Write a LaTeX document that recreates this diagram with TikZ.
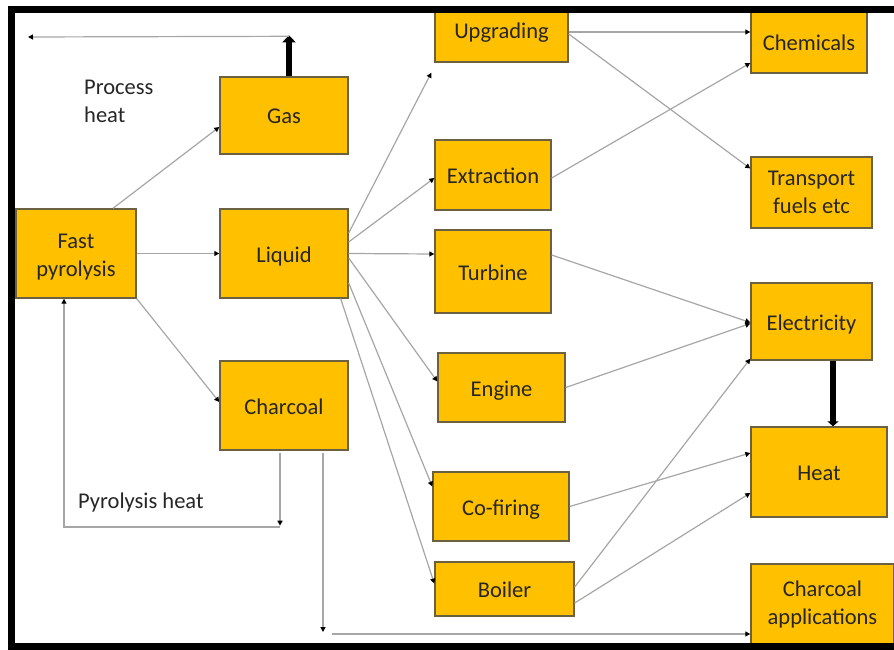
\documentclass[tikz,border=0pt]{standalone}
\usepackage{fontspec}
\setmainfont{Carlito}
\usetikzlibrary{arrows.meta,calc}
\definecolor{boxfill}{HTML}{FFC000}
\definecolor{boxline}{HTML}{6B6040}
\definecolor{flow}{HTML}{A6A6A6}
\definecolor{ink}{HTML}{262626}
\begin{document}
\begin{tikzpicture}[x=1pt,y=-1pt,
  stage/.style={draw=boxline, line width=1.4pt, fill=boxfill, text=ink,
    align=center, inner sep=0pt, font=\fontsize{22.5}{28}\selectfont},
  oneline/.style={stage, text height=19pt, text depth=2pt},
  flowto/.style={draw=flow, line width=1.2pt,
    -{Triangle[length=5pt,width=5pt,color=black]}},
  heavy/.style={draw=black, line width=6pt,
    -{Triangle[length=7pt,width=13pt]}},
  note/.style={text=ink, align=left, anchor=west, inner sep=0pt,
    font=\fontsize{22.5}{28}\selectfont}]
\useasboundingbox (0,0) rectangle (894,650);
\clip (0,0) rectangle (894,650);

% process stages
\node[stage, minimum width=120pt, minimum height=89pt] (fp) at (76,253.5) {\rule{0pt}{22pt}Fast\\pyrolysis};
\node[oneline, minimum width=128pt, minimum height=77pt] (gas) at (284,115.5) {Gas};
\node[oneline, minimum width=128pt, minimum height=89pt] (liquid) at (284,253.5) {Liquid};
\node[oneline, minimum width=128pt, minimum height=89pt] (charcoal) at (284,405.5) {Charcoal};

% conversion routes
\node[oneline, text height=17pt, text depth=4pt, minimum width=133pt, minimum height=60pt] (upg) at (501.5,32) {Upgrading};
\node[oneline, minimum width=116pt, minimum height=70pt] (extr) at (493,175) {Extraction};
\node[oneline, minimum width=116pt, minimum height=83pt] (turb) at (493,271.5) {Turbine};
\node[oneline, minimum width=127pt, minimum height=69pt] (eng) at (501.5,387.5) {Engine};
\node[oneline, minimum width=136pt, minimum height=69pt] (cofire) at (501,506.5) {Co-firing};
\node[oneline, minimum width=139pt, minimum height=54pt] (boil) at (504.5,589) {Boiler};

% products
\node[oneline, minimum width=116pt, minimum height=61pt] (chem) at (809,42.5) {Chemicals};
\node[stage, minimum width=121pt, minimum height=71pt] (fuel) at (811.5,192.5) {Transport\\fuels etc};
\node[oneline, minimum width=121pt, minimum height=77pt] (elec) at (811.5,321.5) {Electricity};
\node[oneline, minimum width=136pt, minimum height=90pt] (heat) at (819,472) {Heat};
\node[stage, minimum width=143pt, minimum height=81pt] (chapp) at (822.5,604.5) {Charcoal\\applications};

% labels
\node[note] (procheat) at (84,101) {Process\\heat};
\node[note] (pyroheat) at (78,502) {Pyrolysis heat};

% pyrolysis products
\draw[flowto] ($(fp.north)+(37,0)$) -- ($(gas.west)+(0,11.5)$);
\draw[flowto] (fp.east) -- (liquid.west);
\draw[flowto] (fp.south east) -- ($(charcoal.west)+(0,-3.5)$);

% process heat from gas
\coordinate (ph) at ($(gas.north)+(5,-41)$);
\coordinate (phend) at (28,37);
\draw[heavy] ($(gas.north)+(5,0)$) -- (ph);
\draw[flowto] ($(ph)+(0,1)$) -- (phend);

% liquid routes
\draw[flowto] ($(liquid.east)+(0,-20.5)$) -- ($(upg.south west)+(-3,10)$);
\draw[flowto] ($(liquid.east)+(0,-11.5)$) -- ($(extr.west)+(0,3)$);
\draw[flowto] (liquid.east) -- ($(turb.west)+(0,-17.5)$);
\draw[flowto] ($(liquid.east)+(0,4.5)$) -- ($(eng.west)+(0,-6)$);
\draw[flowto] ($(liquid.east)+(0,29.5)$) -- ($(cofire.west)+(0,-20)$);
\draw[flowto] ($(liquid.south east)+(-8,0)$) -- ($(boil.west)+(0,-5.5)$);

% pyrolysis heat loop from charcoal
\coordinate (loopA) at (280,527);
\coordinate (loopB) at (64,527);
\draw[flowto] ($(charcoal.south)+(-4,2)$) -- ($(charcoal.south)+(-4,75)$);
\draw[flowto] (loopA) -- (loopB) -- (loopB |- fp.south);

% charcoal to applications
\coordinate (chdrop) at (323,632);
\coordinate (chrun) at (332,634);
\draw[flowto] ($(charcoal.south)+(39,2)$) -- (chdrop);
\draw[flowto] (chrun) -- ($(chapp.west)+(0,29.5)$);

% routes to products
\draw[flowto] (upg.east) -- ($(chem.west)+(0,-10.5)$);
\draw[flowto] ($(upg.east)+(0,2)$) -- ($(fuel.west)+(0,-24)$);
\draw[flowto] ($(extr.east)+(0,3)$) -- ($(chem.west)+(0,20.5)$);
\draw[flowto] ($(turb.east)+(0,-16.5)$) -- ($(elec.west)+(0,1)$);
\draw[flowto] (eng.east) -- ($(elec.west)+(0,2)$);
\draw[flowto] ($(boil.east)+(0,-2)$) -- ($(elec.south west)+(0,-2)$);
\draw[flowto] (cofire.east) -- ($(heat.west)+(0,-19)$);
\draw[flowto] ($(boil.east)+(0,14)$) -- ($(heat.west)+(0,21)$);
\draw[heavy, -{Triangle[length=5pt,width=11pt]}] ($(elec.south)+(21.5,0)$) -- ($(heat.north)+(14,0)$);

% frame: white margin outside a black border on three sides
\fill[white] (0,0) rectangle (894,6);
\fill[white] (0,0) rectangle (8,650);
\fill[black] (8,6) rectangle (894,13);
\fill[black] (8,6) rectangle (15,650);
\fill[black] (8,643) rectangle (894,650);
\end{tikzpicture}
\end{document}
